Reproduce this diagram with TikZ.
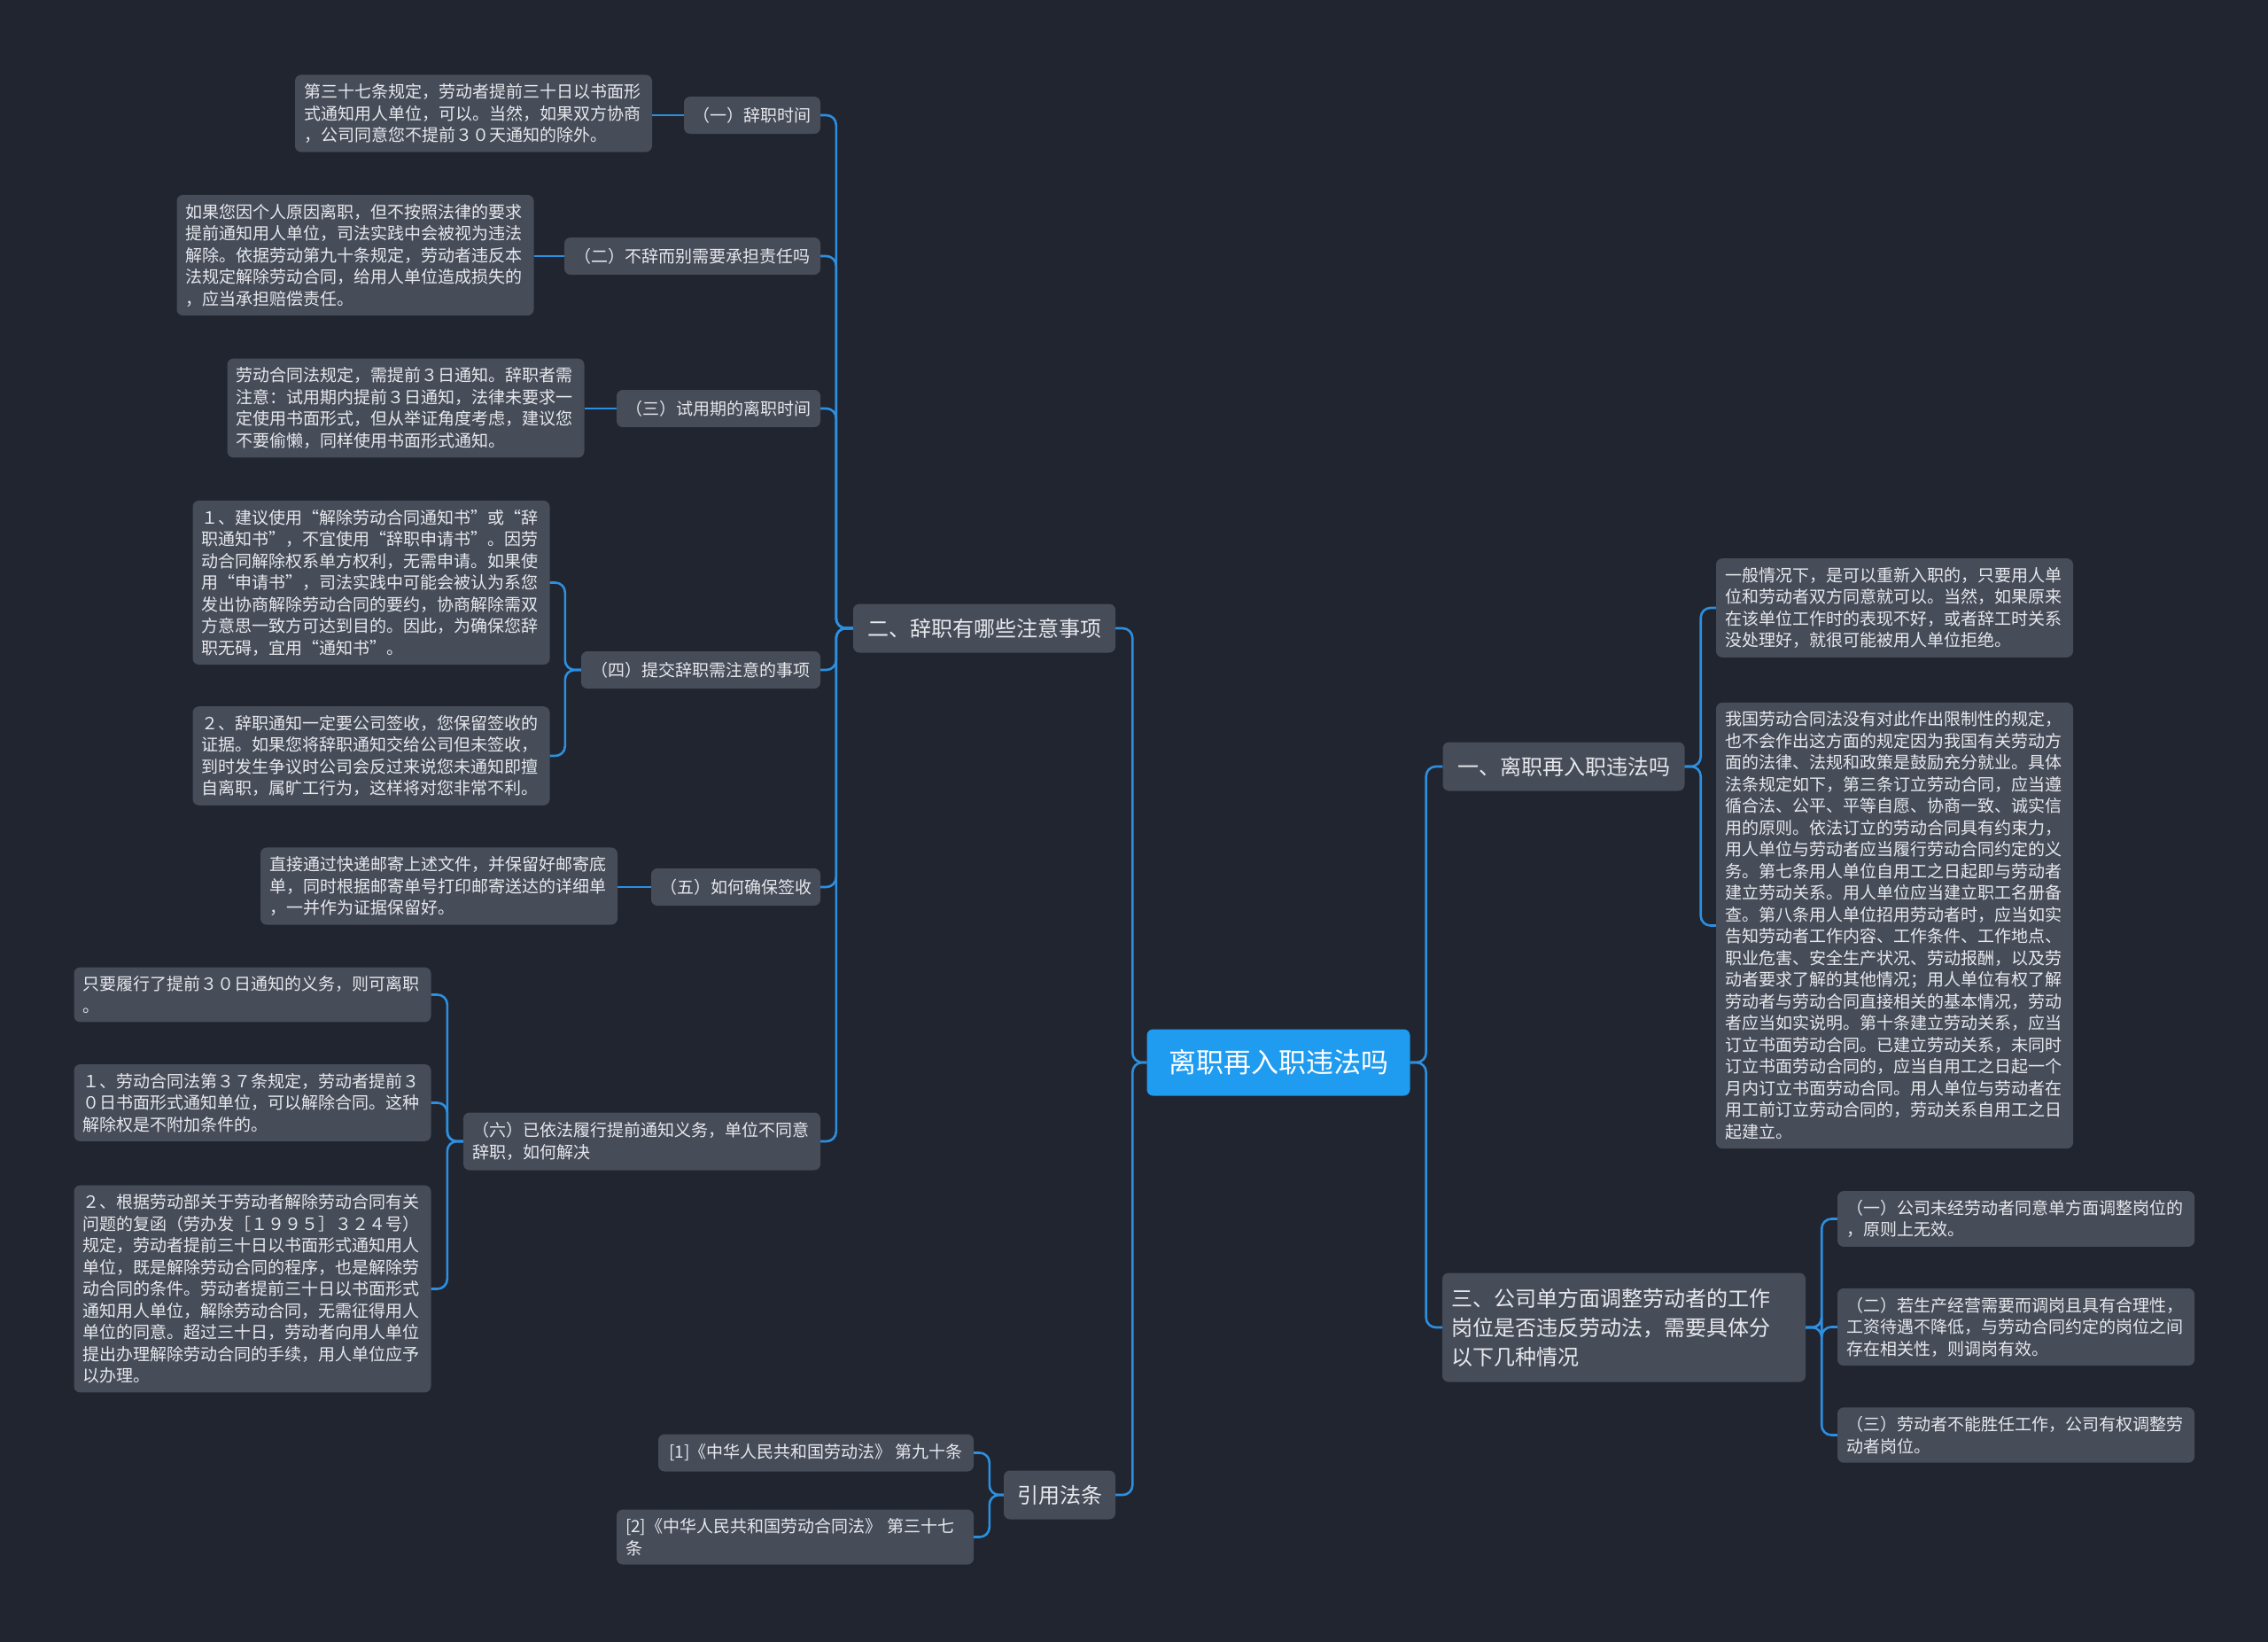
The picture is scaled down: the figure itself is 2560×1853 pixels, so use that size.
\documentclass[tikz,border=0pt]{standalone}
\usepackage{fontspec}
\setmainfont{Noto Sans CJK SC}
\usepackage{tikz}
\usetikzlibrary{positioning}
\definecolor{bgcol}{HTML}{21252F}
\definecolor{boxcol}{HTML}{474C59}
\definecolor{rootcol}{HTML}{1F9BF0}
\definecolor{linkcol}{HTML}{2C8FE0}
\definecolor{txtcol}{HTML}{E6E8EC}

\begin{document}
\begin{tikzpicture}[x=1pt,y=-1pt]
\tikzstyle{box}=[rectangle,rounded corners=7pt,fill=boxcol,text=txtcol,inner sep=10pt]
\tikzstyle{leaf}=[box,font=\fontsize{19}{24.5}\selectfont,align=left,text width=383pt]
\tikzstyle{sub}=[box,font=\fontsize{19}{24.5}\selectfont,minimum height=42pt]
\tikzstyle{main}=[box,font=\fontsize{24}{33}\selectfont,minimum height=55pt]
\tikzstyle{root}=[box,fill=rootcol,text=white,font=\fontsize{31}{36}\selectfont,minimum width=297pt,minimum height=75pt]
\tikzstyle{link}=[draw=linkcol,line width=2.6pt,rounded corners=11pt]
\fill[bgcol] (0,0) rectangle (2560,1853);
\useasboundingbox (0,0) rectangle (2560,1853);

% centre
\node[root] (R) at (1443,1199) {离职再入职违法吗};

% main branches
\node[main,minimum width=296pt] (B2) at (1111,709) {二、辞职有哪些注意事项};
\node[main,minimum width=126pt] (B4) at (1196,1687) {引用法条};
\node[main,minimum width=273pt] (B1) at (1765,865) {一、离职再入职违法吗};
\node[main,align=left,text width=390pt,minimum height=123pt] (B3) at (1833,1498)
  {三、公司单方面调整劳动者的工作\\岗位是否违反劳动法，需要具体分\\以下几种情况};

% sub topics of B2
\node[sub,minimum width=154pt] (S1) at (849,130) {（一）辞职时间};
\node[sub,minimum width=289pt] (S2) at (781.5,289) {（二）不辞而别需要承担责任吗};
\node[sub,minimum width=230pt] (S3) at (811,461) {（三）试用期的离职时间};
\node[sub,minimum width=270pt] (S4) at (791,756) {（四）提交辞职需注意的事项};
\node[sub,minimum width=191pt] (S5) at (830.5,1001) {（五）如何确保签收};
\node[sub,align=left,text width=383pt,minimum height=65pt] (S6) at (724.5,1288)
  {（六）已依法履行提前通知义务，单位不同意\\辞职，如何解决};

% leaves
\node[leaf] (L1) at (534.5,128) {第三十七条规定，劳动者提前三十日以书面形\\式通知用人单位，可以。当然，如果双方协商\\，公司同意您不提前３０天通知的除外。};
\node[leaf] (L2) at (401,288) {如果您因个人原因离职，但不按照法律的要求\\提前通知用人单位，司法实践中会被视为违法\\解除。依据劳动第九十条规定，劳动者违反本\\法规定解除劳动合同，给用人单位造成损失的\\，应当承担赔偿责任。};
\node[leaf] (L3) at (458,460.5) {劳动合同法规定，需提前３日通知。辞职者需\\注意：试用期内提前３日通知，法律未要求一\\定使用书面形式，但从举证角度考虑，建议您\\不要偷懒，同样使用书面形式通知。};
\node[leaf] (L4a) at (419,657.5) {１、建议使用“解除劳动合同通知书”或“辞\\职通知书”，不宜使用“辞职申请书”。因劳\\动合同解除权系单方权利，无需申请。如果使\\用“申请书”，司法实践中可能会被认为系您\\发出协商解除劳动合同的要约，协商解除需双\\方意思一致方可达到目的。因此，为确保您辞\\职无碍，宜用“通知书”。};
\node[leaf] (L4b) at (419,853) {２、辞职通知一定要公司签收，您保留签收的\\证据。如果您将辞职通知交给公司但未签收，\\到时发生争议时公司会反过来说您未通知即擅\\自离职，属旷工行为，这样将对您非常不利。};
\node[leaf] (L5) at (495.5,1000) {直接通过快递邮寄上述文件，并保留好邮寄底\\单，同时根据邮寄单号打印邮寄送达的详细单\\，一并作为证据保留好。};
\node[leaf] (L6a) at (285,1122.5) {只要履行了提前３０日通知的义务，则可离职\\。};
\node[leaf] (L6b) at (285,1244.5) {１、劳动合同法第３７条规定，劳动者提前３\\０日书面形式通知单位，可以解除合同。这种\\解除权是不附加条件的。};
\node[leaf] (L6c) at (285,1454.5) {２、根据劳动部关于劳动者解除劳动合同有关\\问题的复函（劳办发［１９９５］３２４号）\\规定，劳动者提前三十日以书面形式通知用人\\单位，既是解除劳动合同的程序，也是解除劳\\动合同的条件。劳动者提前三十日以书面形式\\通知用人单位，解除劳动合同，无需征得用人\\单位的同意。超过三十日，劳动者向用人单位\\提出办理解除劳动合同的手续，用人单位应予\\以办理。};

% citations
\node[sub,minimum width=356pt] (C1) at (921,1639.5) {[1]《中华人民共和国劳动法》 第九十条};
\node[leaf] (C2) at (897.5,1734.5) {[2]《中华人民共和国劳动合同法》 第三十七\\条};

% right side leaves
\node[leaf] (P1) at (2138.5,686) {一般情况下，是可以重新入职的，只要用人单\\位和劳动者双方同意就可以。当然，如果原来\\在该单位工作时的表现不好，或者辞工时关系\\没处理好，就很可能被用人单位拒绝。};
\node[leaf] (P2) at (2138.5,1044.5) {我国劳动合同法没有对此作出限制性的规定，\\也不会作出这方面的规定因为我国有关劳动方\\面的法律、法规和政策是鼓励充分就业。具体\\法条规定如下，第三条订立劳动合同，应当遵\\循合法、公平、平等自愿、协商一致、诚实信\\用的原则。依法订立的劳动合同具有约束力，\\用人单位与劳动者应当履行劳动合同约定的义\\务。第七条用人单位自用工之日起即与劳动者\\建立劳动关系。用人单位应当建立职工名册备\\查。第八条用人单位招用劳动者时，应当如实\\告知劳动者工作内容、工作条件、工作地点、\\职业危害、安全生产状况、劳动报酬，以及劳\\动者要求了解的其他情况；用人单位有权了解\\劳动者与劳动合同直接相关的基本情况，劳动\\者应当如实说明。第十条建立劳动关系，应当\\订立书面劳动合同。已建立劳动关系，未同时\\订立书面劳动合同的，应当自用工之日起一个\\月内订立书面劳动合同。用人单位与劳动者在\\用工前订立劳动合同的，劳动关系自用工之日\\起建立。};
\node[leaf] (Q1) at (2275.5,1375.5) {（一）公司未经劳动者同意单方面调整岗位的\\，原则上无效。};
\node[leaf] (Q2) at (2275.5,1497.5) {（二）若生产经营需要而调岗且具有合理性，\\工资待遇不降低，与劳动合同约定的岗位之间\\存在相关性，则调岗有效。};
\node[leaf] (Q3) at (2275.5,1619.5) {（三）劳动者不能胜任工作，公司有权调整劳\\动者岗位。};

% connectors
\foreach \c in {B2,B4} \draw[link] (R.west) -- ++(-16,0) |- (\c.east);
\foreach \c in {B1,B3} \draw[link] (R.east) -- ++(18,0) |- (\c.west);
\foreach \c in {S1,S2,S3,S4,S5,S6} \draw[link] (B2.west) -- ++(-19,0) |- (\c.east);
\draw[link] (S1.west) -- (L1.east |- S1.west);
\draw[link] (S2.west) -- (L2.east |- S2.west);
\draw[link] (S3.west) -- (L3.east |- S3.west);
\foreach \c in {L4a,L4b} \draw[link] (S4.west) -- ++(-18,0) |- (\c.east);
\draw[link] (S5.west) -- (L5.east |- S5.west);
\foreach \c in {L6a,L6b,L6c} \draw[link] (S6.west) -- ++(-18,0) |- (\c.east);
\foreach \c in {C1,C2} \draw[link] (B4.west) -- ++(-16,0) |- (\c.east);
\foreach \c in {P1,P2} \draw[link] (B1.east) -- ++(18,0) |- (\c.west);
\foreach \c in {Q1,Q2,Q3} \draw[link] (B3.east) -- ++(18,0) |- (\c.west);
\end{tikzpicture}
\end{document}
